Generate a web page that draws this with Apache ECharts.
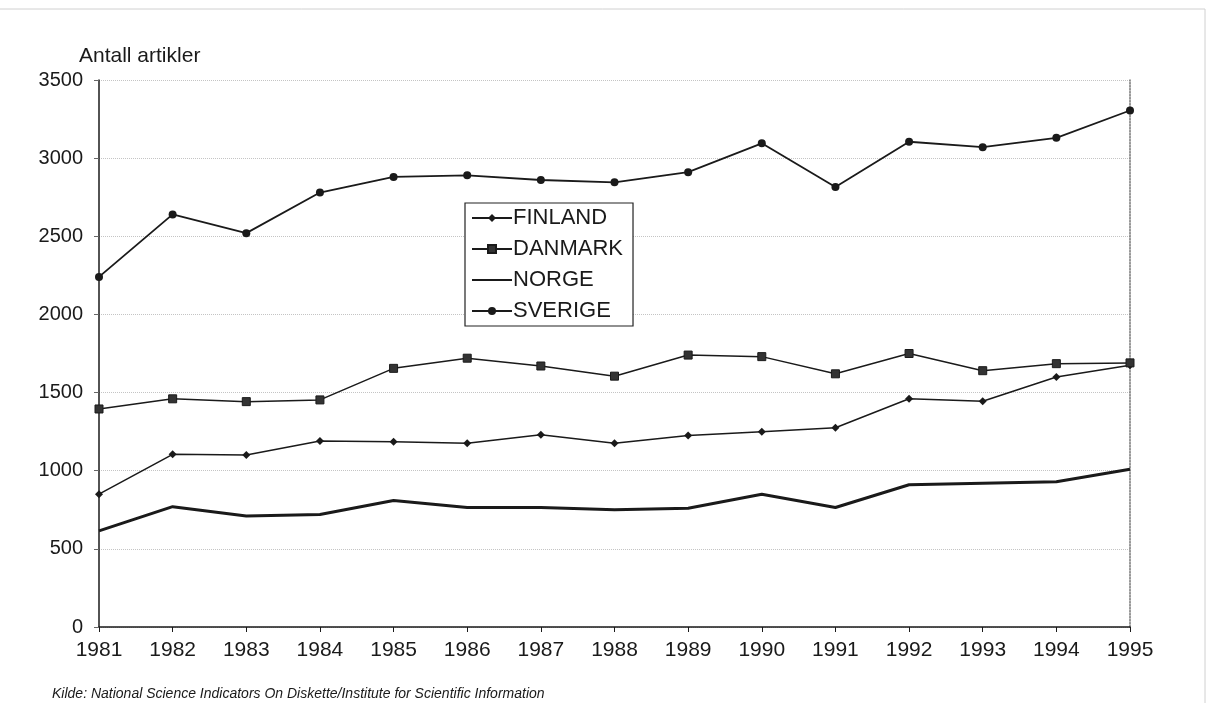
<!DOCTYPE html>
<html lang="no">
<head>
  <meta charset="utf-8">
  <script src="https://cdn.jsdelivr.net/npm/echarts@6/dist/echarts.min.js"></script>
</head>
<body style="margin: 0; background: #fff">
<div id="container" style="width: 1210px; height: 703px"></div>
<script type="text/javascript">
  // årstall og artikkeltall, lest av figuren
  var years = ['1981', '1982', '1983', '1984', '1985', '1986', '1987', '1988',
               '1989', '1990', '1991', '1992', '1993', '1994', '1995'];
  var finland = [850, 1105, 1100, 1190, 1185, 1175, 1230, 1175, 1225, 1250, 1275, 1460, 1445, 1600, 1675];
  var danmark = [1395, 1460, 1442, 1453, 1655, 1720, 1670, 1605, 1740, 1730, 1620, 1750, 1640, 1685, 1690];
  var norge = [615, 770, 710, 720, 810, 765, 765, 750, 760, 850, 765, 910, 920, 930, 1010];
  var sverige = [2240, 2640, 2520, 2780, 2880, 2890, 2860, 2845, 2910, 3095, 2815, 3105, 3070, 3130, 3305];
  var yTicks = [0, 500, 1000, 1500, 2000, 2500, 3000, 3500];

  var font = 'Liberation Sans, Arial, Helvetica, sans-serif';
  var ink = '#1a1a1a';

  var chart = echarts.init(document.getElementById('container'), null, { renderer: 'canvas' });

  function serie(name, data, symbol, size, width) {
    return {
      name: name,
      type: 'line',
      data: data,
      symbol: symbol,
      symbolSize: size,
      showSymbol: symbol !== 'none',
      animation: false,
      lineStyle: { color: ink, width: width },
      itemStyle: { color: symbol === 'rect' ? '#333' : ink, borderColor: ink, borderWidth: symbol === 'rect' ? 1 : 0 }
    };
  }

  var option = {
    backgroundColor: '#fff',
    animation: false,
    title: [
      {
        text: 'Antall artikler',
        left: 74, top: 41,
        textStyle: { fontFamily: font, fontSize: 21, fontWeight: 'normal', color: ink }
      },
      {
        text: 'Kilde: National Science Indicators On Diskette/Institute for Scientific Information',
        left: 47, top: 682,
        textStyle: { fontFamily: font, fontSize: 14, fontStyle: 'italic', fontWeight: 'normal', color: ink }
      }
    ],
    graphic: [
      {
        type: 'polyline',
        shape: { points: [[0, 9], [1205, 9], [1205, 703]] },
        style: { stroke: '#d0d0d0', lineWidth: 1, fill: null }
      }
    ],
    legend: {
      orient: 'vertical',
      left: 465, top: 203,
      padding: [4, 10, 4, 6],
      itemWidth: 40,
      itemHeight: 10,
      itemGap: 9,
      borderColor: '#222',
      borderWidth: 1.2,
      backgroundColor: '#fff',
      textStyle: { fontFamily: font, fontSize: 22, color: ink, padding: [0, 0, 0, -4] },
      data: [
        'FINLAND',
        'DANMARK',
        { name: 'NORGE', itemStyle: { opacity: 0 } },
        'SVERIGE'
      ]
    },
    grid: { left: 99, right: 80, top: 80, bottom: 76, containLabel: false },
    xAxis: {
      type: 'category',
      data: years,
      boundaryGap: false,
      axisLine: { lineStyle: { color: ink, width: 1.5 } },
      axisTick: { show: true, length: 5, lineStyle: { color: ink } },
      axisLabel: { fontFamily: font, fontSize: 21, color: ink, margin: 13 },
      splitLine: { show: false }
    },
    yAxis: [
      {
        type: 'value',
        min: yTicks[0], max: yTicks[yTicks.length - 1], interval: 500,
        axisLine: { show: true, lineStyle: { color: ink, width: 1.5 } },
        axisTick: { show: true, length: 5, lineStyle: { color: '#666' } },
        axisLabel: {
          fontFamily: font, fontSize: 20, color: ink, margin: 16,
          formatter: function (v) { return String(v); }
        },
        splitLine: { show: true, lineStyle: { color: '#c4c4c4', type: 'dotted', width: 1 } }
      },
      {
        type: 'value',
        position: 'right',
        min: yTicks[0], max: yTicks[yTicks.length - 1], interval: 500,
        axisLine: { show: true, lineStyle: { color: '#777', type: 'dotted', width: 1.5 } },
        axisTick: { show: false },
        axisLabel: { show: false },
        splitLine: { show: false }
      }
    ],
    series: [
      serie('FINLAND', finland, 'diamond', 8, 1.5),
      serie('DANMARK', danmark, 'rect', 8, 1.5),
      serie('NORGE', norge, 'none', 0, 3),
      serie('SVERIGE', sverige, 'circle', 8, 1.8)
    ]
  };

  chart.setOption(option);
  window.addEventListener('resize', chart.resize);
</script>
</body>
</html>
